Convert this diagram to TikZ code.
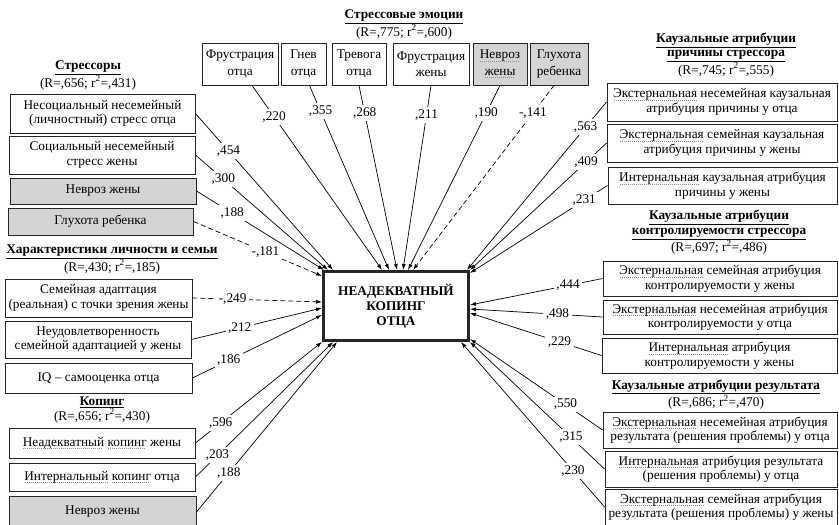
\documentclass[tikz,border=0pt]{standalone}
\usepackage{fontspec}
\setmainfont{Liberation Serif}
\usetikzlibrary{calc,arrows.meta}
\def\spellmark#1{\setbox0\hbox{#1}\rlap{\color{black!45}\raisebox{-3pt}{\leaders\hbox to 2pt{\hss\vrule width 1pt height 0.8pt\hss}\hskip\wd0}}\box0\relax}
\tikzset{
	varbox/.style={draw=black!85, line width=0.9pt, fill=white, align=center, inner sep=0pt},
	graybox/.style={varbox, fill=black!17},
	grouptitle/.style={align=center, inner sep=0pt},
	coef/.style={fill=white, inner sep=2.5pt},
	eff/.style={line width=0.7pt, -{Latex[length=6pt,width=4pt]}},
	negeff/.style={eff, dash pattern=on 5pt off 3pt}
}

\begin{document}
\begin{tikzpicture}[x=1pt, y=-1pt, font=\fontsize{13.3}{14.5}\selectfont]
		%%%%% START %%%%%
		\useasboundingbox (0,0) rectangle (839,525);
		
		\node[varbox, line width=3pt, minimum width=145pt, minimum height=69pt, font=\fontsize{13.3}{15}\selectfont\bfseries] (cop) at (396,306) {НЕАДЕКВАТНЫЙ\\КОПИНГ\\ОТЦА};
		
		% stress emotions
		\node[grouptitle] (t-emo) at (404,24.5) {\underline{\textbf{Стрессовые эмоции}}\\(R=,775; r\textsuperscript{2}=,600)};
		\node[varbox, minimum width=76pt, minimum height=42pt] (e1) at (240,64) {Фрустрация\\[2pt]отца};
		\node[varbox, minimum width=45pt, minimum height=42pt] (e2) at (303.5,64) {Гнев\\[2pt]отца};
		\node[varbox, minimum width=54pt, minimum height=42pt] (e3) at (359,64) {Тревога\\[2pt]отца};
		\node[varbox, minimum width=76pt, minimum height=42pt] (e4) at (431,64) {Фрустрация\\[2pt]жены};
		\node[graybox, minimum width=54pt, minimum height=42pt] (e5) at (500,64) {\spellmark{Невроз}\\[2pt]\spellmark{жены}};
		\node[graybox, minimum width=58pt, minimum height=42pt] (e6) at (559,64) {Глухота\\[2pt]ребенка};
		
		% stressors
		\node[grouptitle] (t-str) at (88,75.5) {\underline{\textbf{Стрессоры}}\\(R=,656; r\textsuperscript{2}=,431)};
		\node[varbox, minimum width=185pt, minimum height=39pt] (s1) at (102.5,113.5) {Несоциальный несемейный\\(личностный) стресс отца};
		\node[varbox, minimum width=186pt, minimum height=38pt] (s2) at (102,155) {Социальный несемейный\\стресс жены};
		\node[graybox, minimum width=186pt, minimum height=26pt] (s3) at (103,191) {Невроз жены};
		\node[graybox, minimum width=185pt, minimum height=27pt] (s4) at (100.5,221.5) {Глухота ребенка};
		
		% personality and family
		\node[grouptitle] (t-pers) at (112,259.5) {\underline{\textbf{Характеристики личности и семьи}}\\(R=,430; r\textsuperscript{2}=,185)};
		\node[varbox, minimum width=187pt, minimum height=38pt] (p1) at (98.5,298) {Семейная адаптация\\(реальная) с точки зрения жены};
		\node[varbox, minimum width=186pt, minimum height=37pt] (p2) at (98,339.5) {Неудовлетворенность\\семейной адаптацией у жены};
		\node[varbox, minimum width=187pt, minimum height=30pt] (p3) at (98.5,378) {IQ – самооценка отца};
		
		% coping
		\node[grouptitle] (t-cop) at (102,410) {\underline{\textbf{Копинг}}\\(R=,656; r\textsuperscript{2}=,430)};
		\node[varbox, minimum width=186pt, minimum height=30pt] (k1) at (102,443) {\spellmark{Неадекватный} \spellmark{копинг} жены};
		\node[varbox, minimum width=186pt, minimum height=28pt] (k2) at (102,477) {\spellmark{Интернальный} \spellmark{копинг} отца};
		\node[graybox, minimum width=187pt, minimum height=32pt] (k3) at (102.5,512) {Невроз жены};
		
		% cause attributions
		\node[grouptitle] (t-cause) at (726,55) {\underline{\textbf{Каузальные атрибуции}}\\\underline{\textbf{причины стрессора}}\\(R=,745; r\textsuperscript{2}=,555)};
		\node[varbox, minimum width=230pt, minimum height=38pt] (c1) at (722,102) {\spellmark{Экстернальная} несемейная каузальная\\атрибуция причины у отца};
		\node[varbox, minimum width=230pt, minimum height=38pt] (c2) at (722,143) {\spellmark{Экстернальная} семейная каузальная\\атрибуция причины у жены};
		\node[varbox, minimum width=229pt, minimum height=37pt] (c3) at (722.5,185.5) {\spellmark{Интернальная} каузальная атрибуция\\причины у жены};
		
		% controllability attributions
		\node[grouptitle] (t-ctrl) at (719,232.5) {\underline{\textbf{Каузальные атрибуции}}\\\underline{\textbf{контролируемости стрессора}}\\(R=,697; r\textsuperscript{2}=,486)};
		\node[varbox, minimum width=234pt, minimum height=35pt] (u1) at (720,278.5) {\spellmark{Экстернальная} семейная атрибуция\\контролируемости у жены};
		\node[varbox, minimum width=234pt, minimum height=34pt] (u2) at (720,317) {\spellmark{Экстернальная} несемейная атрибуция\\контролируемости у отца};
		\node[varbox, minimum width=235pt, minimum height=35pt] (u3) at (719.5,355.5) {\spellmark{Интернальная} атрибуция\\контролируемости у жены};
		
		% result attributions
		\node[grouptitle] (t-res) at (716,394.5) {\underline{\textbf{Каузальные атрибуции результата}}\\(R=,686; r\textsuperscript{2}=,470)};
		\node[varbox, minimum width=234pt, minimum height=36pt] (r1) at (720,430) {\spellmark{Экстернальная} несемейная атрибуция\\результата (решения проблемы) у отца};
		\node[varbox, minimum width=232pt, minimum height=36pt] (r2) at (721,469) {\spellmark{Интернальная} атрибуция результата\\(решения проблемы) у отца};
		\node[varbox, minimum width=232pt, minimum height=36pt] (r3) at (721,507) {\spellmark{Экстернальная} семейная атрибуция\\результата (решения проблемы) у жены};
		
		% effects, left
		\draw[eff] (s1.east) -- node[coef, pos=.24] {,454} ($(cop.north west)+(11,0)$);
		\draw[eff] (s2.east) -- node[coef, pos=.21] {,300} ($(cop.north west)+(6,0)$);
		\draw[eff] (s3.east) -- node[coef, pos=.28] {,188} ($(cop.north west)+(2,0)$);
		\draw[negeff] (s4.east) -- node[coef, pos=.56] {-,181} ($(cop.north west)+(0,6)$);
		\draw[negeff] (p1.east) -- node[coef, pos=.31] {-,249} ($(cop.west)+(0,-4)$);
		\draw[eff] (p2.east) -- node[coef, pos=.37] {,212} ($(cop.west)+(0,2)$);
		\draw[eff] (p3.east) -- node[coef, pos=.28] {,186} ($(cop.west)+(0,9)$);
		\draw[eff] (k1.east) -- node[coef, pos=.2] {,596} (cop.south west);
		\draw[eff] (k2.east) -- node[coef, pos=.16] {,203} ($(cop.south west)+(11,0)$);
		\draw[eff] (k3.east) -- node[coef, pos=.23] {,188} ($(cop.south west)+(15,0)$);
		
		% effects, top
		\draw[eff] ($(e1.south)+(12,0)$) -- node[coef, pos=.17] {,220} ($(cop.north west)+(60,0)$);
		\draw[eff] ($(e2.south)+(6,0)$) -- node[coef, pos=.14] {,355} ($(cop.north west)+(67,0)$);
		\draw[eff] (e3.south) -- node[coef, pos=.15] {,268} ($(cop.north west)+(75,0)$);
		\draw[eff] (e4.south) -- node[coef, pos=.16] {,211} ($(cop.north west)+(81,0)$);
		\draw[eff] (e5.south) -- node[coef, pos=.15] {,190} ($(cop.north west)+(86,0)$);
		\draw[negeff] ($(e6.south)+(-5,0)$) -- node[coef, pos=.15] {-,141} ($(cop.north west)+(91,0)$);
		
		% effects, right
		\draw[eff] (c1.west) -- node[coef, pos=.15] {,563} ($(cop.north east)+(-3,0)$);
		\draw[eff] (c2.west) -- node[coef, pos=.15] {,409} (cop.north east);
		\draw[eff] (c3.west) -- node[coef, pos=.17] {,231} ($(cop.north east)+(0,3)$);
		\draw[eff] (u1.west) -- node[coef, pos=.26] {,444} ($(cop.east)+(0,-1)$);
		\draw[eff] (u2.west) -- node[coef, pos=.34] {,498} ($(cop.east)+(0,3)$);
		\draw[eff] (u3.west) -- node[coef, pos=.32] {,229} ($(cop.east)+(0,7)$);
		\draw[eff] (r1.west) -- node[coef, pos=.28] {,550} ($(cop.south east)+(0,-3)$);
		\draw[eff] (r2.west) -- node[coef, pos=.25] {,315} (cop.south east);
		\draw[eff] (r3.west) -- node[coef, pos=.22] {,230} ($(cop.south east)+(-9,0)$);
		
		%%%%% END %%%%%
\end{tikzpicture}
\end{document}
